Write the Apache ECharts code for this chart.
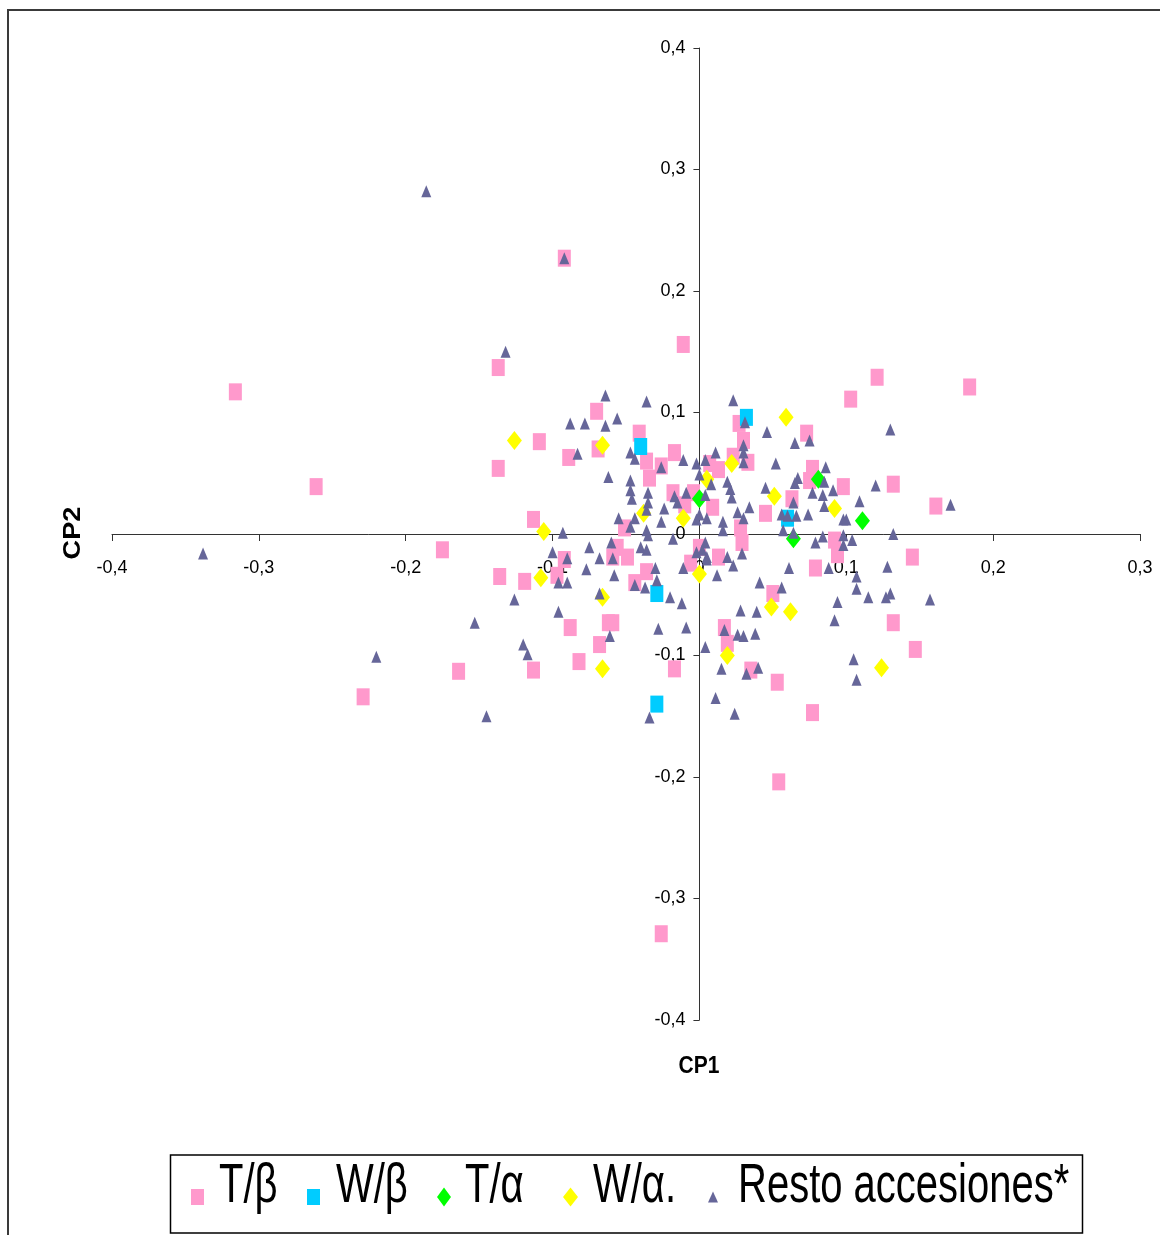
<!DOCTYPE html>
<html>
<head>
<meta charset="utf-8">
<script src="https://cdn.jsdelivr.net/npm/echarts@6/dist/echarts.min.js"></script>
<style>
html,body{margin:0;padding:0;background:#fff;}
#c{width:1160px;height:1235px;}
</style>
</head>
<body>
<div id="c"></div>
<script>
// Axis settings
const xMin = -0.4, xMax = 0.3, yMin = -0.4, yMax = 0.4, tickStep = 0.1;
const seriesNames = ['T/β', 'W/β', 'T/α', 'W/α.', 'Resto accesiones*'];
const axisNames = ['CP1', 'CP2'];

// T/β (pink squares)
const tBeta = [
[-0.316,0.117],[-0.261,0.039],[-0.229,-0.134],[-0.175,-0.013],[-0.164,-0.113],[-0.137,0.137],[-0.137,0.054],[-0.136,-0.035],[-0.119,-0.039],[-0.113,0.012],[-0.109,0.076],[-0.113,-0.112],[-0.092,0.227],[-0.089,0.063],[-0.092,-0.021],[-0.097,-0.034],[-0.088,-0.077],[-0.082,-0.105],[-0.070,0.101],[-0.069,0.070],[-0.068,-0.091],[-0.062,-0.073],[-0.059,-0.073],[-0.011,0.156],[-0.041,0.083],[-0.036,0.060],[-0.034,0.046],[-0.026,0.056],[-0.017,0.067],[-0.018,0.034],[-0.010,0.024],[-0.004,0.034],[0.009,0.022],[0.013,0.053],[0.007,0.058],[0.023,0.064],[0.027,0.091],[0.030,0.077],[0.033,0.059],[0.045,0.017],[0.063,0.029],[-0.051,0.005],[-0.056,-0.011],[-0.049,-0.019],[-0.044,-0.040],[-0.036,-0.031],[-0.006,-0.024],[0.013,-0.019],[0.028,0.005],[0.029,-0.007],[0.050,-0.049],[0.121,0.129],[0.103,0.111],[0.184,0.121],[0.073,0.083],[0.077,0.054],[0.075,0.044],[0.098,0.039],[0.132,0.041],[0.161,0.023],[0.092,-0.005],[0.094,-0.017],[0.000,-0.011],[0.079,-0.028],[0.145,-0.019],[0.132,-0.073],[-0.017,-0.111],[0.017,-0.077],[0.019,-0.090],[0.035,-0.112],[0.053,-0.122],[0.147,-0.095],[0.077,-0.147],[0.054,-0.204],[-0.026,-0.329],[-0.059,-0.019]
];
// W/β (cyan squares)
const wBeta = [
[-0.040,0.072],[0.032,0.096],[0.060,0.013],[-0.029,-0.049],[-0.029,-0.140]
];
// T/α (green diamonds)
const tAlpha = [
[0.000,0.029],[0.081,0.045],[0.111,0.011],[0.064,-0.004]
];
// W/α. (yellow diamonds)
const wAlpha = [
[-0.126,0.077],[-0.066,0.073],[-0.106,0.002],[-0.108,-0.036],[-0.066,-0.052],[-0.066,-0.111],[-0.038,0.017],[-0.011,0.013],[0.000,-0.033],[0.005,0.045],[0.022,0.058],[0.059,0.096],[0.051,0.031],[0.092,0.021],[0.049,-0.060],[0.062,-0.064],[0.019,-0.100],[0.124,-0.110]
];
// Resto accesiones* (triangles)
const resto = [
[-0.186,0.282],[-0.092,0.227],[-0.132,0.150],[-0.338,-0.016],[-0.220,-0.101],[-0.145,-0.150],[-0.153,-0.073],[-0.126,-0.054],[-0.120,-0.091],[-0.117,-0.099],[-0.096,-0.064],[-0.100,-0.015],[-0.090,-0.020],[-0.096,-0.040],[-0.090,-0.040],[-0.077,-0.029],[-0.068,-0.020],[-0.059,-0.020],[-0.058,-0.034],[-0.068,-0.049],[-0.061,-0.084],
[-0.064,0.114],[-0.036,0.109],[-0.088,0.091],[-0.078,0.091],[-0.064,0.089],[-0.056,0.095],[-0.083,0.066],[-0.047,0.067],[-0.044,0.062],[-0.062,0.047],[-0.047,0.044],[-0.047,0.036],[-0.046,0.029],[-0.035,0.034],[-0.035,0.026],[-0.036,0.020],[-0.024,0.021],[-0.011,0.061],[-0.002,0.058],[0.004,0.061],[0.011,0.067],[0.000,0.049],[0.008,0.041],[-0.009,0.034],[-0.017,0.031],[-0.015,0.026],[-0.026,0.055],[-0.055,0.013],[-0.047,0.006],[-0.044,0.013],[-0.036,0.003],[-0.026,0.010],[-0.018,-0.004],[-0.002,0.012],
[0.023,0.110],[0.030,0.073],[0.030,0.059],[0.031,0.092],[0.046,0.084],[0.052,0.058],[0.065,0.075],[0.045,0.038],[0.019,0.043],[0.021,0.037],[0.022,0.030],[0.004,0.032],[0.026,0.018],[0.030,0.013],[0.034,0.022],[0.016,0.010],[0.016,0.003],[0.000,0.016],[0.005,0.013],[0.057,0.003],[0.064,0.026],[0.067,0.046],[0.061,-0.028],[0.041,-0.040],[0.056,-0.044],[-0.002,-0.015],[0.002,-0.013],[0.005,-0.021],[0.012,-0.034],[0.019,-0.019],[0.023,-0.026],[0.029,-0.016],[-0.011,-0.028],[-0.020,-0.052],[-0.012,-0.057],[-0.030,-0.028],[-0.037,-0.044],[-0.029,-0.038],[-0.044,-0.042],[-0.040,-0.011],[-0.036,-0.013],[-0.035,-0.001],[-0.060,-0.007],[-0.075,-0.011],[-0.093,0.001],
[0.075,0.077],[0.130,0.086],[0.030,0.067],[0.065,0.042],[0.086,0.055],[0.077,0.034],[0.084,0.032],[0.085,0.023],[0.091,0.036],[0.109,0.027],[0.120,0.040],[0.171,0.024],[0.056,0.016],[0.060,0.015],[0.066,0.015],[0.074,0.016],[0.064,0.001],[0.098,0.012],[0.100,0.012],[0.098,-0.001],[0.098,-0.009],[0.104,-0.005],[0.084,-0.002],[0.079,-0.007],[0.132,0.000],[0.004,-0.007],[0.005,-0.019],[0.088,-0.028],[0.107,-0.035],[0.128,-0.027],[0.107,-0.045],[0.115,-0.052],[0.127,-0.052],[0.130,-0.049],[0.157,-0.054],[0.094,-0.056],[0.085,0.043],
[0.092,-0.071],[-0.028,-0.078],[-0.009,-0.077],[0.004,-0.093],[-0.034,-0.151],[0.017,-0.079],[0.028,-0.063],[0.039,-0.064],[0.026,-0.083],[0.030,-0.084],[0.038,-0.082],[0.015,-0.111],[0.032,-0.115],[0.040,-0.110],[0.011,-0.135],[0.024,-0.148],[0.105,-0.103],[0.107,-0.120]
];

const sans = "'Liberation Sans', Arial, sans-serif";
const fmt = v => { const r = Math.round(v * 10) / 10; return (r === 0 ? '0' : String(r)).replace('.', ','); };

// layout
const G = {left: 112, right: 20, top: 48, bottom: 215};
const W = 1160, H = 1235;
const plotW = W - G.left - G.right, plotH = H - G.top - G.bottom;
// offsets so both axes cross at the origin
const xAxisOffset = -plotH * (0 - yMin) / (yMax - yMin);
const yAxisOffset = -plotW * (0 - xMin) / (xMax - xMin);

const chart = echarts.init(document.getElementById('c'), null, {renderer: 'canvas'});

// legend entries: icon only (labels drawn as stretched text)
const legendLayout = [
  {icon: 'rect', left: 191, w: 13, h: 16, textX: 219},
  {icon: 'rect', left: 307, w: 13, h: 16, textX: 336},
  {icon: 'diamond', left: 437, w: 14, h: 19, textX: 465},
  {icon: 'diamond', left: 563, w: 15, h: 19, textX: 593},
  {icon: 'triangle', left: 708, w: 10, h: 11, textX: 738}
];
const legendCY = 1197;

chart.setOption({
  animation: false,
  backgroundColor: '#fff',
  grid: {left: G.left, right: G.right, top: G.top, bottom: G.bottom, containLabel: false},
  xAxis: {
    type: 'value', min: xMin, max: xMax, interval: tickStep,
    position: 'bottom', offset: xAxisOffset,
    axisLine: {onZero: false, lineStyle: {color: '#333', width: 1}},
    axisTick: {show: true, length: 7, lineStyle: {color: '#333'}},
    axisLabel: {margin: 25, formatter: fmt, fontFamily: sans, fontSize: 18, color: '#000'},
    splitLine: {show: false}
  },
  yAxis: {
    type: 'value', min: yMin, max: yMax, interval: tickStep,
    position: 'left', offset: yAxisOffset,
    axisLine: {onZero: false, lineStyle: {color: '#333', width: 1}},
    axisTick: {show: true, length: 6, lineStyle: {color: '#333'}},
    axisLabel: {margin: 14, formatter: fmt, fontFamily: sans, fontSize: 18, color: '#000'},
    splitLine: {show: false}
  },
  legend: legendLayout.map((l, i) => ({
    data: [{name: seriesNames[i], icon: l.icon}],
    left: l.left, top: legendCY - l.h / 2, padding: 0,
    itemWidth: l.w, itemHeight: l.h, selectedMode: false,
    formatter: () => '',
    textStyle: {fontSize: 1}
  })),
  graphic: [
    {type: 'rect', shape: {x: 8, y: 10, width: 1200, height: 1300}, style: {fill: 'none', stroke: '#3a3a3a', lineWidth: 2}, silent: true},
    {type: 'rect', shape: {x: 170.5, y: 1155, width: 912, height: 78}, style: {fill: 'none', stroke: '#000', lineWidth: 1.5}, silent: true},
    {type: 'text', x: 699, y: 1066, scaleY: 1.15, style: {text: axisNames[0], font: "bold 21px " + sans, fill: '#000', align: 'center', verticalAlign: 'middle'}},
    {type: 'text', x: 73, y: 533, rotation: Math.PI / 2, scaleX: 1.13, style: {text: axisNames[1], font: "bold 24px " + sans, fill: '#000', align: 'center', verticalAlign: 'middle'}}
  ].concat(legendLayout.map((l, i) => ({
    type: 'text', x: l.textX, y: 1187, scaleY: 1.38,
    style: {text: seriesNames[i], font: "40px " + sans, fill: '#000', align: 'left', verticalAlign: 'middle'}
  }))),
  series: [
    {name: seriesNames[0], type: 'scatter', data: tBeta, symbol: 'rect', symbolSize: [13, 17], itemStyle: {color: '#FF99CC', opacity: 1}},
    {name: seriesNames[1], type: 'scatter', data: wBeta, symbol: 'rect', symbolSize: [13, 17], itemStyle: {color: '#00CCFF', opacity: 1}},
    {name: seriesNames[2], type: 'scatter', data: tAlpha, symbol: 'diamond', symbolSize: [15, 19], itemStyle: {color: '#00FF00', opacity: 1}},
    {name: seriesNames[3], type: 'scatter', data: wAlpha, symbol: 'diamond', symbolSize: [15, 19], itemStyle: {color: '#FFFF00', opacity: 1}},
    {name: seriesNames[4], type: 'scatter', data: resto, symbol: 'triangle', symbolSize: [10, 12], itemStyle: {color: '#666699', opacity: 1}}
  ]
});
</script>
</body>
</html>
